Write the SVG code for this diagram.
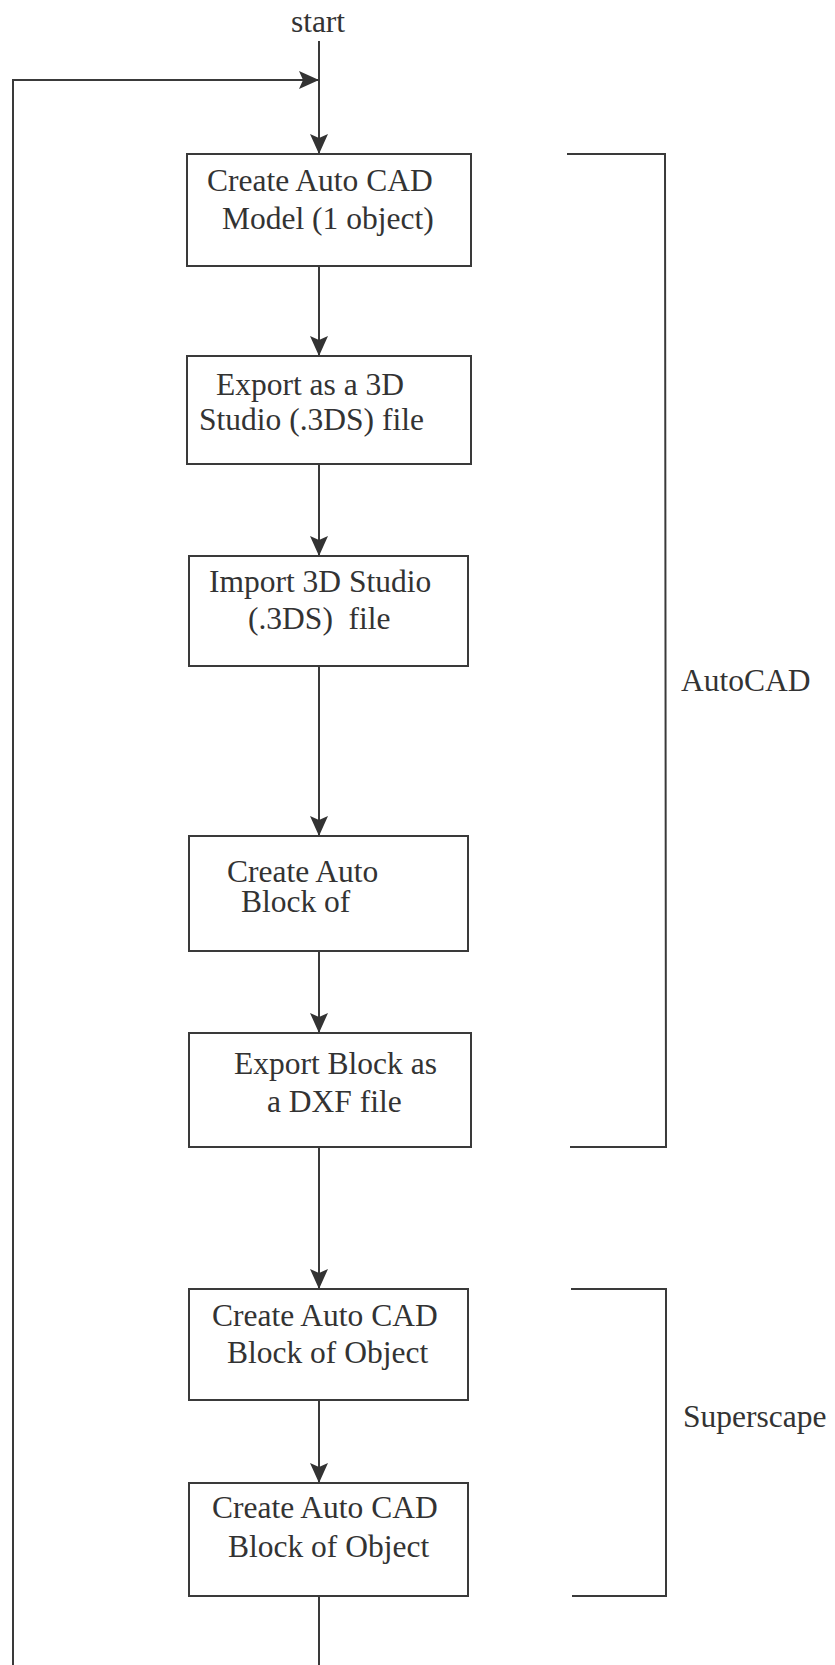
<svg xmlns="http://www.w3.org/2000/svg" width="835" height="1665" viewBox="0 0 835 1665">
<style>
  .box { fill: #ffffff; stroke: #3a3a3a; stroke-width: 2; }
  .line { fill: none; stroke: #3a3a3a; stroke-width: 2; }
  .t { font-family: "Liberation Serif", "Times New Roman", serif; font-size: 31.5px; fill: #333333; white-space: pre; }
</style>
<defs>
  <marker id="arrow" viewBox="0 0 20 18" refX="20" refY="9" markerWidth="20" markerHeight="18" markerUnits="userSpaceOnUse" orient="auto">
    <path d="M0,0 L20,9 L0,18 L4,9 z" fill="#333333"/>
  </marker>
</defs>
<rect width="835" height="1665" fill="#ffffff"/>

<g id="connectors">
  <line class="line" x1="319" y1="41" x2="319" y2="154" marker-end="url(#arrow)"/>
  <polyline class="line" points="13,1665 13,80 319,80" marker-end="url(#arrow)"/>
  <line class="line" x1="319" y1="266" x2="319" y2="356" marker-end="url(#arrow)"/>
  <line class="line" x1="319" y1="464" x2="319" y2="556" marker-end="url(#arrow)"/>
  <line class="line" x1="319" y1="666" x2="319" y2="836" marker-end="url(#arrow)"/>
  <line class="line" x1="319" y1="951" x2="319" y2="1033" marker-end="url(#arrow)"/>
  <line class="line" x1="319" y1="1147" x2="319" y2="1289" marker-end="url(#arrow)"/>
  <line class="line" x1="319" y1="1400" x2="319" y2="1483" marker-end="url(#arrow)"/>
  <line class="line" x1="319" y1="1596" x2="319" y2="1665"/>
</g>

<g id="start">
  <text class="t" x="318" y="32" text-anchor="middle">start</text>
</g>

<g id="node1">
  <rect class="box" x="187" y="154" width="284" height="112"/>
  <text class="t" x="207" y="191">Create Auto CAD</text>
  <text class="t" x="222" y="229">Model (1 object)</text>
</g>

<g id="node2">
  <rect class="box" x="187" y="356" width="284" height="108"/>
  <text class="t" x="216" y="395">Export as a 3D</text>
  <text class="t" x="199" y="430">Studio (.3DS) file</text>
</g>

<g id="node3">
  <rect class="box" x="189" y="556" width="279" height="110"/>
  <text class="t" x="209" y="592">Import 3D Studio</text>
  <text class="t" x="248" y="629">(.3DS)  file</text>
</g>

<g id="node4">
  <rect class="box" x="189" y="836" width="279" height="115"/>
  <text class="t" x="227" y="882">Create Auto</text>
  <text class="t" x="241" y="912">Block of</text>
</g>

<g id="node5">
  <rect class="box" x="189" y="1033" width="282" height="114"/>
  <text class="t" x="234" y="1074">Export Block as</text>
  <text class="t" x="267" y="1112">a DXF file</text>
</g>

<g id="node6">
  <rect class="box" x="189" y="1289" width="279" height="111"/>
  <text class="t" x="212" y="1326">Create Auto CAD</text>
  <text class="t" x="227" y="1363">Block of Object</text>
</g>

<g id="node7">
  <rect class="box" x="189" y="1483" width="279" height="113"/>
  <text class="t" x="212" y="1518">Create Auto CAD</text>
  <text class="t" x="228" y="1557">Block of Object</text>
</g>

<g id="autocad-bracket">
  <polyline class="line" points="567,154 665,154 666,1147 570,1147"/>
  <text class="t" x="681" y="691">AutoCAD</text>
</g>

<g id="superscape-bracket">
  <polyline class="line" points="571,1289 666,1289 666,1596 572,1596"/>
  <text class="t" x="683" y="1427">Superscape</text>
</g>
</svg>
